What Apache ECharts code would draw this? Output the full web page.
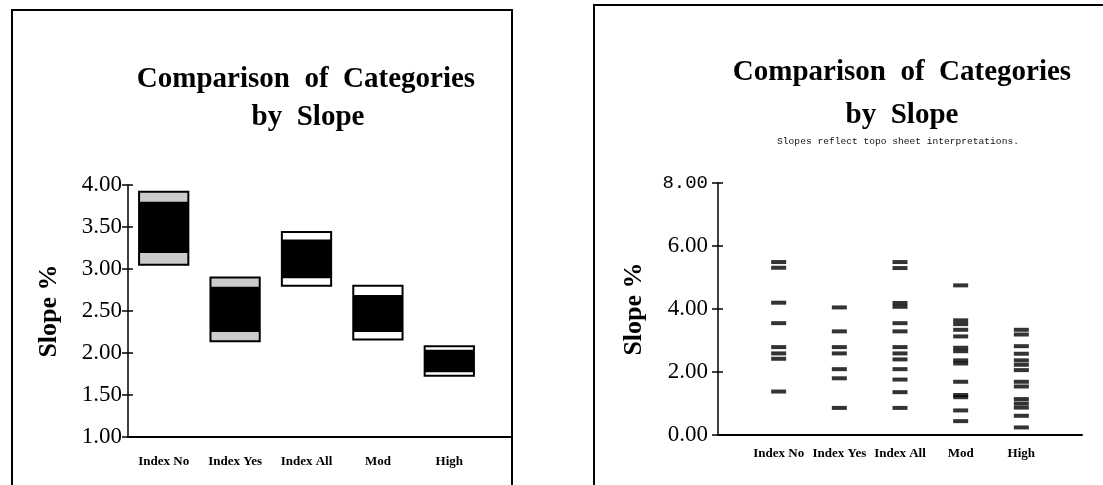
<!DOCTYPE html>
<html>
<head>
<meta charset="utf-8">
<script src="https://cdn.jsdelivr.net/npm/echarts@6/dist/echarts.min.js"></script>
<style>
html,body{margin:0;padding:0;background:#fff;}
#c{width:1103px;height:485px;}
</style>
</head>
<body>
<div id="c"></div>
<script>
// ---- data ----
const categories = ['Index No', 'Index Yes', 'Index All', 'Mod', 'High'];
// left chart: box bands (slope %)
const outerLow  = [3.05, 2.14, 2.80, 2.16, 1.73];
const innerLow  = [3.19, 2.25, 2.89, 2.25, 1.77];
const innerHigh = [3.80, 2.79, 3.35, 2.69, 2.04];
const outerHigh = [3.92, 2.90, 3.44, 2.80, 2.08];
const leftTicks = [1.00, 1.50, 2.00, 2.50, 3.00, 3.50, 4.00];
// right chart: individual slopes
const slopesIndexNo  = [5.49, 5.31, 4.20, 3.55, 2.79, 2.59, 2.42, 1.38];
const slopesIndexYes = [4.05, 3.29, 2.79, 2.59, 2.09, 1.80, 0.86];
const slopesIndexAll = [5.49, 5.30, 4.19, 4.07, 3.55, 3.29, 2.79, 2.59, 2.40, 2.09, 1.76, 1.36, 0.86];
const slopesMod      = [4.75, 3.64, 3.52, 3.34, 3.13, 2.77, 2.66, 2.37, 2.27, 1.69, 1.27, 1.20, 0.78, 0.44];
const slopesHigh     = [3.34, 3.19, 2.82, 2.58, 2.37, 2.23, 2.06, 1.69, 1.54, 1.14, 1.00, 0.87, 0.61, 0.24];
const rightTicks = [0, 2, 4, 6, 8];

// ---- styles (kept apart from data) ----
const bandFill = ['#cbcbcb', '#cbcbcb', '#ffffff', '#ffffff', '#ffffff'];
const serif = '"Liberation Serif", "Times New Roman", serif';

const boxData = categories.map((c, i) => [i, outerLow[i], outerHigh[i], innerLow[i], innerHigh[i]]);
const allSlopes = [slopesIndexNo, slopesIndexYes, slopesIndexAll, slopesMod, slopesHigh];
const dotData = [];
allSlopes.forEach((arr, i) => arr.forEach(v => dotData.push([i + 1, v])));

const chart = echarts.init(document.getElementById('c'), null, {renderer: 'canvas'});

const tickLabelStyle = {color: '#000', fontFamily: serif, fontSize: 23};
const catLabelStyle = {color: '#000', fontFamily: serif, fontSize: 13, fontWeight: 'bold'};
const nameStyle = {color: '#000', fontFamily: serif, fontSize: 26, fontWeight: 'bold'};

chart.setOption({
  animation: false,
  backgroundColor: '#fff',
  grid: [
    {left: 128, top: 185, width: 357, height: 252},
    {left: 718, top: 183, width: 364, height: 252}
  ],
  xAxis: [
    {
      gridIndex: 0, type: 'category', data: categories, boundaryGap: true,
      axisLine: {lineStyle: {color: '#000', width: 2}},
      axisTick: {show: false},
      axisLabel: Object.assign({margin: 18}, catLabelStyle),
      splitLine: {show: false}
    },
    {
      gridIndex: 1, type: 'value', min: 0, max: 6, interval: 1,
      axisLine: {show: true, onZero: false, lineStyle: {color: '#000', width: 2}},
      axisTick: {show: false},
      splitLine: {show: false},
      axisLabel: Object.assign({
        margin: 12,
        formatter: v => (v >= 1 && v <= categories.length) ? categories[v - 1] : ''
      }, catLabelStyle)
    }
  ],
  yAxis: [
    {
      gridIndex: 0, type: 'value', position: 'left',
      min: leftTicks[0], max: leftTicks[leftTicks.length - 1], interval: 0.5,
      name: 'Slope %', nameLocation: 'middle', nameGap: 66, nameRotate: 90,
      nameTextStyle: nameStyle,
      axisLine: {show: true, lineStyle: {color: '#000', width: 1.5}},
      axisTick: {show: true, length: 6, lineStyle: {color: '#000', width: 1.5}},
      axisLabel: Object.assign({margin: 6, formatter: v => v.toFixed(2)}, tickLabelStyle),
      splitLine: {show: false}
    },
    {
      gridIndex: 0, type: 'value', position: 'left', offset: 0,
      min: leftTicks[0], max: leftTicks[leftTicks.length - 1], interval: 0.5,
      axisLine: {show: false},
      axisTick: {show: true, inside: true, length: 5, lineStyle: {color: '#000', width: 1.5}},
      axisLabel: {show: false}, splitLine: {show: false}
    },
    {
      gridIndex: 1, type: 'value', position: 'left',
      min: rightTicks[0], max: rightTicks[rightTicks.length - 1], interval: 2,
      name: 'Slope %', nameLocation: 'middle', nameGap: 71, nameRotate: 90,
      nameTextStyle: nameStyle,
      axisLine: {show: true, lineStyle: {color: '#000', width: 1.5}},
      axisTick: {show: true, length: 6, lineStyle: {color: '#000', width: 1.5}},
      axisLabel: Object.assign({
        margin: 10,
        formatter: v => v === rightTicks[rightTicks.length - 1] ? '{m|' + v.toFixed(2) + '}' : v.toFixed(2),
        rich: {m: {fontFamily: '"Liberation Mono", monospace', fontSize: 19, color: '#000'}}
      }, tickLabelStyle),
      splitLine: {show: false}
    },
    {
      gridIndex: 1, type: 'value', position: 'left', offset: 0,
      min: rightTicks[0], max: rightTicks[rightTicks.length - 1], interval: 2,
      axisLine: {show: false},
      axisTick: {show: true, inside: true, length: 5, lineStyle: {color: '#000', width: 1.5}},
      axisLabel: {show: false}, splitLine: {show: false}
    }
  ],
  series: [
    {
      type: 'custom', xAxisIndex: 0, yAxisIndex: 0,
      encode: {x: 0, y: [1, 2, 3, 4]},
      data: boxData,
      renderItem: function (params, api) {
        const i = api.value(0);
        const w = api.size([1, 0])[0] * 0.69;
        const oL = api.coord([i, api.value(1)]);
        const oH = api.coord([i, api.value(2)]);
        const iL = api.coord([i, api.value(3)]);
        const iH = api.coord([i, api.value(4)]);
        const x0 = oL[0] - w / 2;
        return {
          type: 'group',
          children: [
            {type: 'rect', shape: {x: x0, y: oH[1], width: w, height: oL[1] - oH[1]},
             style: {fill: bandFill[i], stroke: '#000', lineWidth: 2}},
            {type: 'rect', shape: {x: x0, y: iH[1], width: w, height: iL[1] - iH[1]},
             style: {fill: '#000'}}
          ]
        };
      }
    },
    {
      type: 'scatter', xAxisIndex: 1, yAxisIndex: 2,
      symbol: 'rect', symbolSize: [15, 4],
      itemStyle: {color: '#000'},
      data: dotData
    }
  ],
  graphic: [
    {type: 'polyline', shape: {points: [[12, 485], [12, 10], [512, 10], [512, 485]]},
     style: {stroke: '#000', lineWidth: 2, fill: null}},
    {type: 'polyline', shape: {points: [[594, 485], [594, 5], [1103, 5]]},
     style: {stroke: '#000', lineWidth: 2, fill: null}},
    {type: 'line', shape: {x1: 484, y1: 437, x2: 511, y2: 437},
     style: {stroke: '#000', lineWidth: 2}},
    {type: 'text', x: 306, y: 80,
     style: {text: 'Comparison  of  Categories', font: 'bold 29px ' + serif, fill: '#000', textAlign: 'center', textVerticalAlign: 'middle'}},
    {type: 'text', x: 308, y: 118,
     style: {text: 'by  Slope', font: 'bold 29px ' + serif, fill: '#000', textAlign: 'center', textVerticalAlign: 'middle'}},
    {type: 'text', x: 902, y: 73,
     style: {text: 'Comparison  of  Categories', font: 'bold 29px ' + serif, fill: '#000', textAlign: 'center', textVerticalAlign: 'middle'}},
    {type: 'text', x: 902, y: 116,
     style: {text: 'by  Slope', font: 'bold 29px ' + serif, fill: '#000', textAlign: 'center', textVerticalAlign: 'middle'}},
    {type: 'text', x: 898, y: 141,
     style: {text: 'Slopes reflect topo sheet interpretations.', font: '9.6px "Liberation Mono", monospace', fill: '#111', textAlign: 'center', textVerticalAlign: 'middle'}}
  ]
});
</script>
</body>
</html>
